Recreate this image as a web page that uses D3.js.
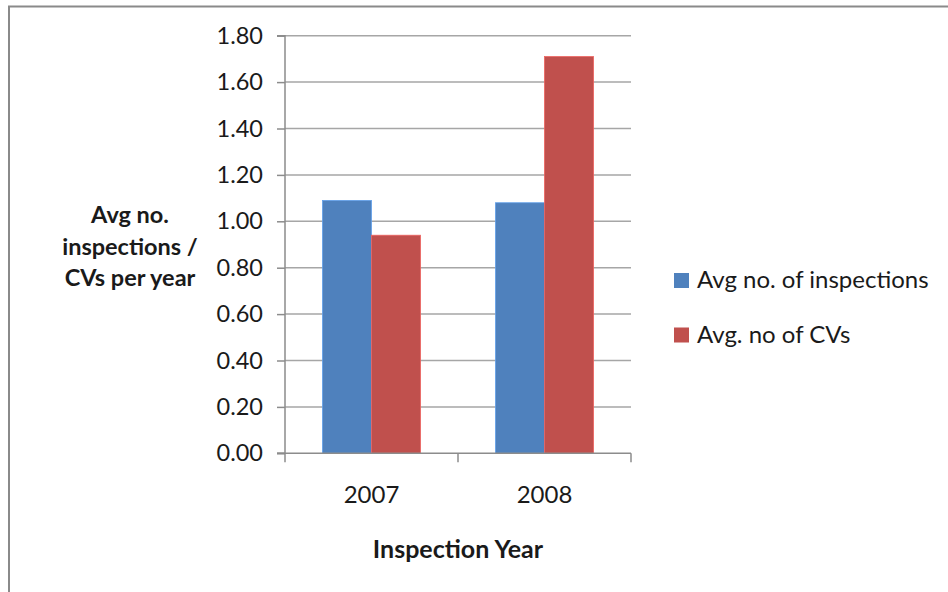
<!DOCTYPE html>
<html>
<head>
<meta charset="utf-8">
<script src="https://cdn.jsdelivr.net/npm/d3@7"></script>
<style>
  html, body { margin: 0; padding: 0; background: #fff; }
  svg { display: block; }
  text { font-family: Lato, "Open Sans", sans-serif; fill: #1a1a1a; }
</style>
</head>
<body>
<svg id="chart" width="948" height="592"></svg>
<script>
// Inspection statistics per year
const years = ["2007", "2008"];
const seriesNames = ["Avg no. of inspections", "Avg. no of CVs"];
const avgInspections = [1.09, 1.08];
const avgCVs = [0.94, 1.71];
const seriesColors = ["#4F81BD", "#C0504D"];
const yTicks = [0, 0.2, 0.4, 0.6, 0.8, 1.0, 1.2, 1.4, 1.6, 1.8];

const seriesValues = [avgInspections, avgCVs];
const rows = years.map((yr, i) => ({
  year: yr,
  values: seriesNames.map((s, j) => ({ series: s, value: seriesValues[j][i], idx: j }))
}));

const svg = d3.select("#chart");

// frame
svg.append("path")
  .attr("d", "M9,592 L9,6.5 L948,6.5")
  .attr("fill", "none")
  .attr("stroke", "#8a8a8a")
  .attr("stroke-width", 2);

const plot = { left: 285, right: 631, top: 35.7, bottom: 453.3 };

const y = d3.scaleLinear().domain([0, 1.8]).range([plot.bottom, plot.top]);
const x0 = d3.scaleBand().domain(years).range([plot.left, plot.right]).padding(0);
const groupW = x0.bandwidth() * 0.567;
const x1 = d3.scaleBand().domain(seriesNames).range([0, groupW]).padding(0);

// gridlines
svg.append("g")
  .selectAll("line")
  .data(yTicks.filter(d => d > 0))
  .join("line")
  .attr("x1", plot.left).attr("x2", plot.right)
  .attr("y1", d => y(d)).attr("y2", d => y(d))
  .attr("stroke", "#a6a6a6").attr("stroke-width", 1.5);

// y axis
const yAxis = d3.axisLeft(y).tickValues(yTicks).tickFormat(d3.format(".2f")).tickSize(8).tickPadding(14);
const gy = svg.append("g").attr("transform", `translate(${plot.left},0)`).call(yAxis);
gy.select(".domain").attr("stroke", "#8c8c8c").attr("stroke-width", 1.5).attr("d", `M-8,${plot.top}H0V${plot.bottom}H-8`);
gy.selectAll(".tick line").attr("stroke", "#8c8c8c").attr("stroke-width", 1.5);
gy.selectAll(".tick text").attr("font-size", 23.5).attr("fill", "#1a1a1a").attr("font-family", "Lato, sans-serif");

// bars
const groups = svg.append("g").selectAll("g")
  .data(rows).join("g")
  .attr("transform", d => `translate(${x0(d.year) + (x0.bandwidth() - groupW) / 2},0)`);
groups.selectAll("rect")
  .data(d => d.values).join("rect")
  .attr("x", d => x1(d.series))
  .attr("width", x1.bandwidth())
  .attr("y", d => y(d.value))
  .attr("height", d => plot.bottom - y(d.value))
  .attr("fill", d => seriesColors[d.idx])
  .attr("stroke", d => d3.color(seriesColors[d.idx]).brighter(0.6))
  .attr("stroke-width", 0.8);

// x axis
const gx = svg.append("g").attr("transform", `translate(0,${plot.bottom})`);
gx.append("line").attr("x1", plot.left - 8).attr("x2", plot.right)
  .attr("stroke", "#8c8c8c").attr("stroke-width", 1.5);
gx.selectAll(".xt").data([plot.left, ...years.map(yv => x0(yv) + x0.bandwidth())])
  .join("line").attr("class", "xt")
  .attr("x1", d => d).attr("x2", d => d).attr("y1", 0).attr("y2", 9)
  .attr("stroke", "#8c8c8c").attr("stroke-width", 1.5);
gx.selectAll("text").data(years).join("text")
  .attr("x", d => x0(d) + x0.bandwidth() / 2)
  .attr("y", 50)
  .attr("text-anchor", "middle")
  .attr("font-size", 24)
  .text(d => d);

// axis titles
svg.append("text")
  .attr("x", 458).attr("y", 558)
  .attr("text-anchor", "middle")
  .attr("font-size", 25).attr("font-weight", "bold")
  .text("Inspection Year");

const yTitle = svg.append("text")
  .attr("text-anchor", "middle")
  .attr("font-size", 23.5).attr("font-weight", "bold");
["Avg no.", "inspections /", "CVs per year"].forEach((line, i) => {
  yTitle.append("tspan").attr("x", 130).attr("y", 223 + i * 31.5).text(line);
});

// legend
const legend = svg.append("g").attr("transform", "translate(674,273)");
const li = legend.selectAll("g").data(seriesNames).join("g")
  .attr("transform", (d, i) => `translate(0,${i * 54.5})`);
li.append("rect").attr("width", 15).attr("height", 15)
  .attr("fill", (d, i) => seriesColors[i]);
li.append("text").attr("x", 23).attr("y", 15)
  .attr("font-size", 24)
  .text(d => d);
</script>
</body>
</html>
